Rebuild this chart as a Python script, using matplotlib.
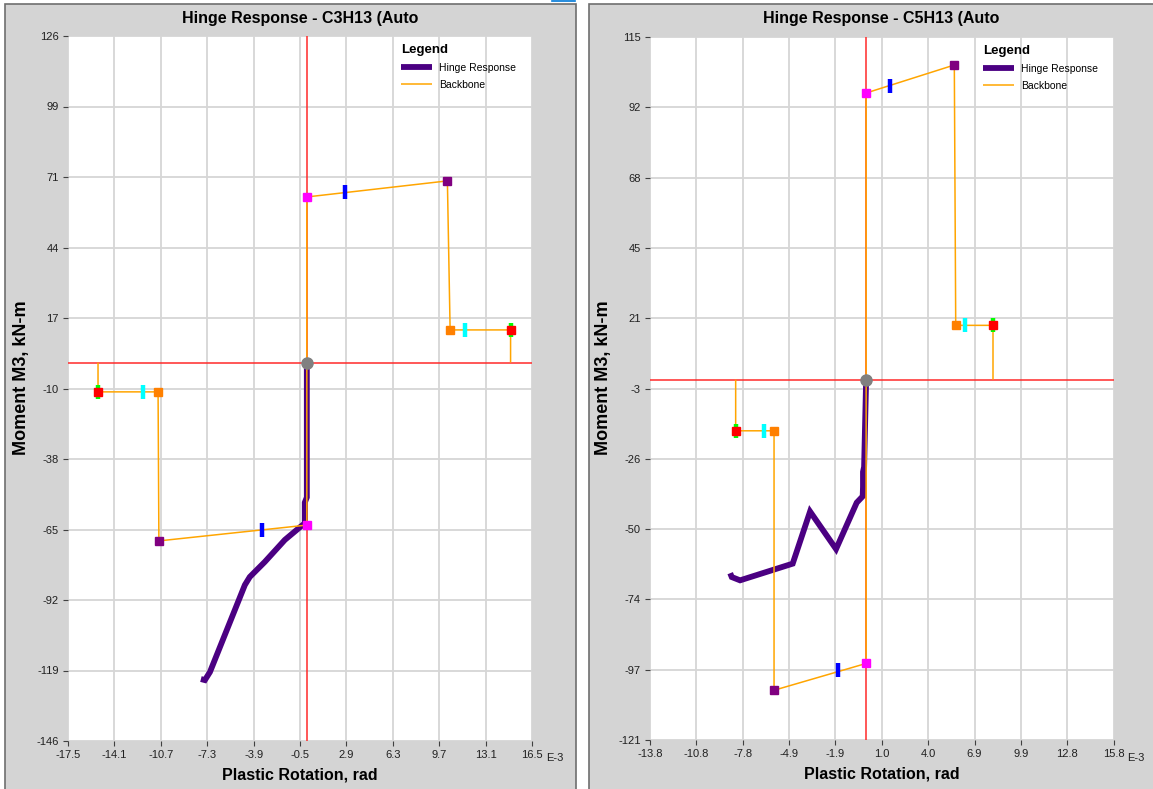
import numpy as np
import matplotlib
matplotlib.use("Agg")
import matplotlib.pyplot as plt
from matplotlib.patches import Rectangle
from matplotlib.lines import Line2D

plt.rcParams['font.family'] = ['Liberation Sans', 'DejaVu Sans']

W, H = 1153, 789

# ---- chart 1: C3H13 ----
title1 = "Hinge Response - C3H13 (Auto"
xticks1 = np.linspace(-17.5, 16.5, 11)
xlabels1 = ['-17.5', '-14.1', '-10.7', '-7.3', '-3.9', '-0.5', '2.9', '6.3', '9.7', '13.1', '16.5']
yticks1 = np.linspace(126, -146, 11)
ylabels1 = ['126', '99', '71', '44', '17', '-10', '-38', '-65', '-92', '-119', '-146']

bb1_x = [-15.3, -15.3, -10.9, -10.84, 0, 0, 0, 10.3, 10.5, 14.93, 14.93]
bb1_y = [0, -11.3, -11.3, -68.8, -62.7, 0, 63.9, 70.1, 12.6, 12.6, 0]
resp1_x = [0, 0, -0.15, -0.15, -0.5, -1.61, -3.08, -4.18, -4.54, -7.1, -7.47, -7.76]
resp1_y = [0, -52, -54, -62, -63.5, -68.4, -76.9, -82.7, -85.8, -119.4, -122.5, -122.1]
ptB1 = ([0, 0], [63.9, -62.7])
ptIO1 = ([2.78, -3.3], [65.8, -64.6])
ptC1 = ([10.3, -10.84], [70.1, -68.8])
ptD1 = ([10.5, -10.9], [12.6, -11.3])
ptLS1 = ([11.6, -12.0], [12.6, -11.3])
ptE1 = ([14.93, -15.3], [12.6, -11.3])

# ---- chart 2: C5H13 ----
title2 = "Hinge Response - C5H13 (Auto"
xticks2 = np.linspace(-13.8, 15.8, 11)
xlabels2 = ['-13.8', '-10.8', '-7.8', '-4.9', '-1.9', '1.0', '4.0', '6.9', '9.9', '12.8', '15.8']
yticks2 = np.linspace(115, -121, 11)
ylabels2 = ['115', '92', '68', '45', '21', '-3', '-26', '-50', '-74', '-97', '-121']

bb2_x = [-8.33, -8.33, -5.88, -5.88, 0, 0, 0, 5.63, 5.72, 8.1, 8.1]
bb2_y = [0, -17.2, -17.2, -104.3, -95.3, 0, 96.2, 105.6, 18.2, 18.2, 0]
resp2_x = [0, -0.13, -0.2, -0.2, -0.22, -0.6, -1.92, -3.58, -4.69, -8.05, -8.58, -8.68]
resp2_y = [0, -29.3, -31, -36, -39.2, -41.3, -56.9, -44.3, -61.8, -67.4, -66.3, -65.0]
ptB2 = ([0, 0], [96.2, -95.3])
ptIO2 = ([1.53, -1.8], [98.6, -97.6])
ptC2 = ([5.63, -5.88], [105.6, -104.3])
ptD2 = ([5.72, -5.88], [18.2, -17.2])
ptLS2 = ([6.31, -6.54], [18.2, -17.2])
ptE2 = ([8.1, -8.33], [18.2, -17.2])


def fig_box(left, top, right, bottom):
    # pixel box -> figure fraction
    return [left / W, 1 - bottom / H, (right - left) / W, (bottom - top) / H]


def draw_panel(ax, xt, xl, yt, yl, bbx, bby, rx, ry, B, IO, C, D, LS, E):
    ax.set_xlim(xt[0], xt[-1])
    ax.set_ylim(yt[-1], yt[0])
    ax.set_xticks(xt)
    ax.set_xticklabels(xl)
    ax.set_yticks(yt)
    ax.set_yticklabels(yl)
    for s in ax.spines.values():
        s.set_visible(False)
    ax.tick_params(length=3.6, width=0.8, color='#404040', labelsize=8,
                   labelcolor='#202020', pad=3)
    ax.set_axisbelow(True)
    ax.grid(True, color='#D6D6D6', linewidth=1.3)

    ax.axhline(0, color='#FF2A2A', linewidth=1.1, zorder=1.5)
    ax.axvline(0, color='#FF2A2A', linewidth=1.1, zorder=1.5)

    h_resp, = ax.plot(rx, ry, color='#4B0082', linewidth=4.2, solid_capstyle='butt',
                      solid_joinstyle='miter', zorder=2, label='Hinge Response')
    h_bb, = ax.plot(bbx, bby, color='#FFA500', linewidth=1.1, solid_capstyle='butt',
                    zorder=3, label='Backbone')

    sq = dict(marker='s', markersize=6, linestyle='none', zorder=5)
    bar = dict(marker='|', markersize=10, markeredgewidth=3.2, linestyle='none', zorder=4)
    ax.plot(*IO, color='#0000FF', **bar)
    ax.plot(*LS, color='#00FFFF', **bar)
    ax.plot(*E, color='#00FF00', **bar)
    ax.plot(*B, color='#FF00FF', **sq)
    ax.plot(*C, color='#800080', **sq)
    ax.plot(*D, color='#FF8000', **sq)
    ax.plot(*E, color='#FF0000', **sq)
    ax.plot([0], [0], marker='o', markersize=8, color='#808080', zorder=6)

    ax.set_xlabel('Plastic Rotation, rad', fontsize=11.5, fontweight='bold')
    ax.xaxis.set_label_coords(0.5, -0.037)
    ax.set_ylabel('Moment M3, kN-m', fontsize=13, fontweight='bold')
    ax.yaxis.set_label_coords(-0.082, 0.515)

    ax.legend(handles=[h_resp, h_bb], loc='upper left', bbox_to_anchor=(0.7177, 0.989),
              frameon=False, borderpad=0, borderaxespad=0, title='Legend',
              alignment='left', fontsize=7.5,
              title_fontproperties=dict(weight='bold', size=9.5),
              handlelength=2.97, handletextpad=0.67, labelspacing=0.68)


fig = plt.figure(figsize=(W / 100, H / 100), dpi=100)
fig.patch.set_facecolor('white')

# grey panels behind each chart
for (l, t, r, b) in [(5, 4, 576, 800), (589, 4, 1165, 800)]:
    fig.add_artist(Rectangle((l / W, 1 - b / H), (r - l) / W, (b - t) / H,
                             transform=fig.transFigure, facecolor='#D4D4D4',
                             edgecolor='#6E6E6E', linewidth=1.2, zorder=-1))
fig.add_artist(Line2D([552 / W, 575 / W], [1 - 1.2 / H, 1 - 1.2 / H],
                      transform=fig.transFigure, color='#0078D7', linewidth=1.2))

ax1 = fig.add_axes(fig_box(68, 36, 532, 741))
draw_panel(ax1, xticks1, xlabels1, yticks1, ylabels1, bb1_x, bb1_y,
           resp1_x, resp1_y, ptB1, ptIO1, ptC1, ptD1, ptLS1, ptE1)
ax2 = fig.add_axes(fig_box(650, 37, 1113.6, 740))
draw_panel(ax2, xticks2, xlabels2, yticks2, ylabels2, bb2_x, bb2_y,
           resp2_x, resp2_y, ptB2, ptIO2, ptC2, ptD2, ptLS2, ptE2)

fig.text(300 / W, 1 - 18 / H, title1, ha='center', va='center', fontsize=11.5, fontweight='bold')
fig.text(881 / W, 1 - 18 / H, title2, ha='center', va='center', fontsize=11.5, fontweight='bold')
fig.text(546 / W, 1 - 758 / H, 'E-3', ha='left', va='center', fontsize=8, color='#202020')
fig.text(1127 / W, 1 - 758 / H, 'E-3', ha='left', va='center', fontsize=8, color='#202020')

fig.savefig('out.png', dpi=100)
